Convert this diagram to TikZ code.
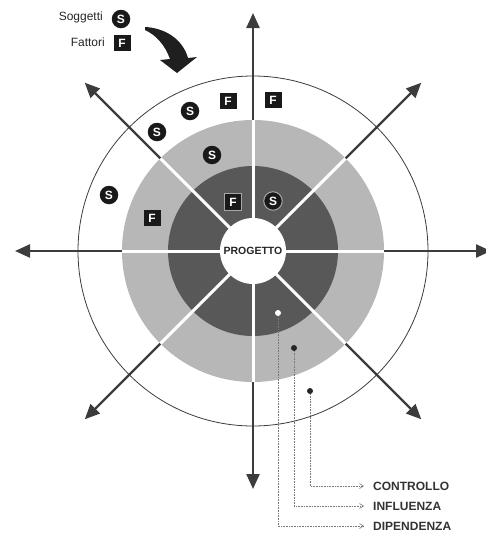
\documentclass[tikz,border=0pt]{standalone}
\usepackage{fontspec}
\setmainfont{Liberation Sans}
\usetikzlibrary{arrows.meta,calc}
\definecolor{medgrey}{RGB}{183,183,183}
\definecolor{darkgrey}{RGB}{88,88,88}
\definecolor{linegrey}{RGB}{60,60,60}
\definecolor{dotgrey}{RGB}{120,120,120}
\begin{document}
\begin{tikzpicture}[x=1pt,y=-1pt,
  ssym/.style={circle,fill=black!90,text=white,inner sep=0pt,minimum size=18.5pt,
    font=\bfseries\fontsize{12}{12}\selectfont},
  fsym/.style={rectangle,fill=black!90,text=white,inner sep=0pt,minimum width=17pt,minimum height=16.5pt,
    font=\bfseries\fontsize{12}{12}\selectfont},
  insym/.style={draw=black!35,line width=1pt},
  axisarrow/.style={draw=linegrey,line width=2.3pt,-{Triangle[length=15pt,width=13pt]}},
  sep/.style={draw=white,line width=3pt},
  lbl/.style={anchor=west,inner sep=0pt,text=black!80,font=\bfseries\fontsize{12}{12}\selectfont},
  leg/.style={anchor=east,inner sep=0pt,text=black!85,font=\fontsize{12}{12}\selectfont},
  dotline/.style={draw=dotgrey,line width=0.6pt,densely dotted,-{Straight Barb[length=4pt,width=5pt]}},
  dot/.style={circle,inner sep=0pt,minimum size=6pt}]
\useasboundingbox (0,0) rectangle (486,533);
\coordinate (C) at (253,251);
% rings
\fill[medgrey] (C) circle[radius=131pt];
\fill[darkgrey] (C) circle[radius=85pt];
\draw[linegrey,line width=0.8pt] (C) circle[radius=175pt];
\foreach \a in {0,45,...,315}{
  \draw[sep] (C) -- ($(C)+(\a:131)$);
  \draw[axisarrow] ($(C)+(\a:131)$) -- ($(C)+(\a:238)$);
}
\node[circle,fill=white,minimum size=66pt,inner sep=0pt,
  font=\bfseries\fontsize{10.5}{10.5}\selectfont,text=black!85] (P) at (C) {PROGETTO};
% legend
\node[ssym] (ls) at (121,19) {S};
\node[fsym] (lf) at (122,43) {F};
\node[leg] (tS) at (103,17) {Soggetti};
\node[leg] (tF) at (105,42) {Fattori};
\fill[black!88] (145,27) .. controls (166,28) and (183,40) .. (188,58) -- (197,57) -- (177,73) -- (160,60)
  -- (170,59) .. controls (165,45) and (156,35) .. (145,30) -- cycle;
% outer ring symbols
\node[ssym] (s1) at (157,132) {S};
\node[ssym] (s2) at (190,111) {S};
\node[fsym] (f1) at (228,101) {F};
\node[fsym] (f2) at (273,100) {F};
\node[ssym] (s3) at (109,195) {S};
% medium ring symbols
\node[ssym] (s4) at (212,155) {S};
\node[fsym] (f3) at (152,218) {F};
% dark ring symbols
\node[fsym,insym] (f4) at (233,202) {F};
\node[ssym,insym] (s5) at (273,201) {S};
% dots and labels
\node[dot,fill=white] (d1) at (278,313) {};
\node[dot,fill=black!85] (d2) at (294,348) {};
\node[dot,fill=black!85] (d3) at (310,391) {};
\node[lbl] (lc) at (373,486) {CONTROLLO};
\node[lbl] (li) at (373,506) {INFLUENZA};
\node[lbl] (ld) at (373,526) {DIPENDENZA};
\draw[dotline] (d3) |- ([xshift=-9pt]lc.west);
\draw[dotline] (d2) |- ([xshift=-9pt]li.west);
\draw[dotline] (d1) |- ([xshift=-9pt]ld.west);
\end{tikzpicture}
\end{document}
